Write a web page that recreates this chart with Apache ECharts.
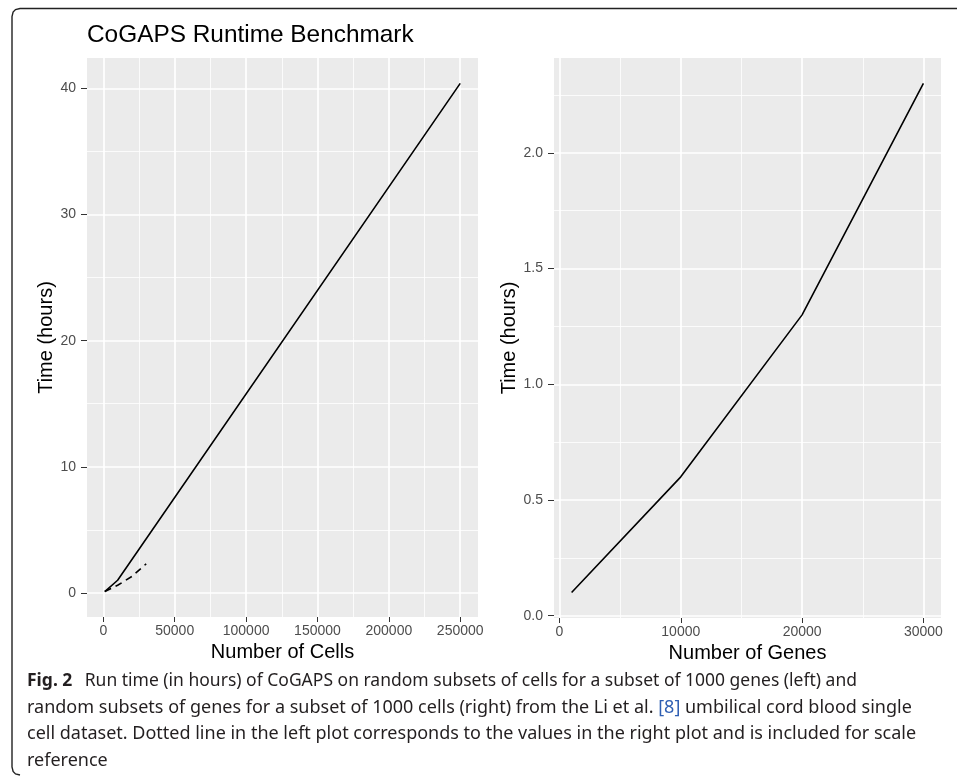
<!DOCTYPE html>
<html>
<head>
<meta charset="utf-8">
<script src="https://cdn.jsdelivr.net/npm/echarts@6/dist/echarts.min.js"></script>
<style>
html,body{margin:0;padding:0;background:#fff;}
#chart{width:957px;height:780px;}
</style>
</head>
<body>
<div id="chart"></div>
<script>
// ---- data ----
const cellCounts = [1000, 10000, 250000];
const cellHours = [0.1, 1.0, 40.4];
const geneCounts = [1000, 10000, 20000, 30000];
const geneHours = [0.1, 0.6, 1.3, 2.3];
const leftXTicks = [0, 50000, 100000, 150000, 200000, 250000];
const leftYTicks = [0, 10, 20, 30, 40];
const rightXTicks = [0, 10000, 20000, 30000];
const rightYTicks = [0.0, 0.5, 1.0, 1.5, 2.0];
const titleText = 'CoGAPS Runtime Benchmark';
const leftXName = 'Number of Cells';
const rightXName = 'Number of Genes';
const yName = 'Time (hours)';
const captionLines = [
  '{b|Fig. 2} Run time (in hours) of CoGAPS on random subsets of cells for a subset of 1000 genes (left) and',
  'random subsets of genes for a subset of 1000 cells (right) from the Li et al. {l|[8]} umbilical cord blood single',
  'cell dataset. Dotted line in the left plot corresponds to the values in the right plot and is included for scale',
  'reference'
];
const captionSqueeze = [0.972, 1, 1, 1];

function pairs(xs, ys) { return xs.map((x, i) => [x, ys[i]]); }
function expand(arr) {
  const lo = Math.min(...arr), hi = Math.max(...arr), d = (hi - lo) * 0.05;
  return [lo - d, hi + d];
}
function minors(ticks, lo, hi) {
  const step = ticks[1] - ticks[0];
  const out = [];
  for (let i = -1; i < ticks.length; i++) {
    const v = ticks[0] + step * (i + 0.5);
    if (v > lo && v < hi) out.push(v);
  }
  return out;
}

const FONT = 'Liberation Sans, Arial, sans-serif';
const CAPFONT = 'Noto Sans, Open Sans, sans-serif';
const lxR = expand(cellCounts), lyR = expand(cellHours);
const rxR = expand(geneCounts), ryR = expand(geneHours);

const grids = [
  {left: 87, top: 58, width: 391, height: 559},
  {left: 554, top: 58, width: 387, height: 560}
];

function mainAxis(dim, gridIndex, range, ticks, name, nameGap, fmt) {
  const isX = dim === 'x';
  return {
    type: 'value', gridIndex, min: range[0], max: range[1],
    position: isX ? 'bottom' : 'left',
    name, nameLocation: 'middle', nameGap,
    nameTextStyle: {fontFamily: FONT, fontSize: 20, color: '#000'},
    axisLine: {show: false, onZero: false},
    axisTick: {show: true, length: isX ? 5 : 6, lineStyle: {color: '#333', width: 1}, customValues: ticks},
    axisLabel: {show: true, customValues: ticks, margin: isX ? 7 : 11, fontFamily: FONT, fontSize: 14, color: '#4D4D4D',
      formatter: fmt || (v => String(v))},
    splitLine: {show: true, lineStyle: {color: '#fff', width: 1.7}},
    z: 2
  };
}
function minorAxis(dim, gridIndex, range, vals) {
  return {
    type: 'value', gridIndex, min: range[0], max: range[1],
    position: dim === 'x' ? 'bottom' : 'left',
    axisLine: {show: false, onZero: false},
    axisTick: {show: false, customValues: vals},
    axisLabel: {show: false, customValues: vals},
    splitLine: {show: true, lineStyle: {color: '#fff', width: 0.8}},
    z: 1
  };
}

const option = {
  backgroundColor: '#fff',
  animation: false,
  grid: grids.map(g => Object.assign({backgroundColor: '#EBEBEB', show: true, borderWidth: 0}, g)),
  xAxis: [
    mainAxis('x', 0, lxR, leftXTicks, leftXName, 15),
    mainAxis('x', 1, rxR, rightXTicks, rightXName, 16),
    minorAxis('x', 0, lxR, minors(leftXTicks, lxR[0], lxR[1])),
    minorAxis('x', 1, rxR, minors(rightXTicks, rxR[0], rxR[1]))
  ],
  yAxis: [
    mainAxis('y', 0, lyR, leftYTicks, yName, 31),
    mainAxis('y', 1, ryR, rightYTicks, yName, 34, v => v.toFixed(1)),
    minorAxis('y', 0, lyR, minors(leftYTicks, lyR[0], lyR[1])),
    minorAxis('y', 1, ryR, minors(rightYTicks, ryR[0], ryR[1]))
  ],
  series: [
    {type: 'line', xAxisIndex: 0, yAxisIndex: 0, data: pairs(cellCounts, cellHours), showSymbol: false,
      lineStyle: {color: '#000', width: 1.6}, z: 5},
    {type: 'line', xAxisIndex: 0, yAxisIndex: 0, data: pairs(geneCounts, geneHours), showSymbol: false,
      lineStyle: {color: '#000', width: 1.6, type: [7, 5]}, z: 5},
    {type: 'line', xAxisIndex: 1, yAxisIndex: 1, data: pairs(geneCounts, geneHours), showSymbol: false,
      lineStyle: {color: '#000', width: 1.6}, z: 5}
  ],
  graphic: [
    {type: 'polyline', silent: true,
      shape: {points: [[957, 8.5], [20, 8.5], [15.5, 9.6], [13.1, 12], [12, 16.5], [12, 767],
                       [13.1, 771.5], [15.5, 773.9], [20, 775]]},
      style: {fill: 'none', stroke: '#222', lineWidth: 1.4}},
    {type: 'text', left: 87, top: 23, style: {text: titleText, fontFamily: FONT, fontSize: 24.4, fill: '#000'}},
    {type: 'group', left: 27, top: 672, children: captionLines.map((t, i) => ({
      type: 'text', x: 0, y: i * 26.5, scaleX: captionSqueeze[i],
      style: {text: t, fontFamily: CAPFONT, fontSize: 18, fill: '#231F20',
        rich: {b: {fontWeight: 'bold', fontFamily: CAPFONT, fontSize: 18, fill: '#231F20', padding: [0, 8, 0, 0]},
               l: {fontFamily: CAPFONT, fontSize: 18, fill: '#2F5FB3'}}}
    }))}
  ]
};

const chart = echarts.init(document.getElementById('chart'), null, {renderer: 'canvas'});
chart.setOption(option);
</script>
</body>
</html>
